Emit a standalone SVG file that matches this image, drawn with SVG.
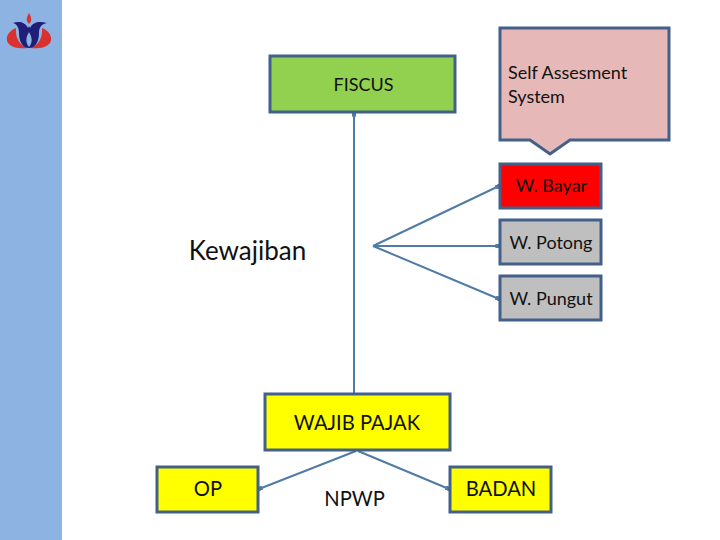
<svg xmlns="http://www.w3.org/2000/svg" width="720" height="540" viewBox="0 0 720 540">
<defs>
<marker id="dot" viewBox="0 0 6 6" refX="5" refY="3" markerWidth="2.2" markerHeight="2.2" markerUnits="strokeWidth" orient="auto"><rect x="0" y="0" width="6" height="6" fill="#4f7ba7"/></marker>
</defs>
<style>
text{font-family:Lato,"Liberation Sans",sans-serif;fill:#111}
.b{stroke:#43608a;stroke-width:3}
.c{fill:none;stroke:#4f7ba7;stroke-width:2;marker-end:url(#dot)}
.s{font-size:18px}
.m{font-size:20.200px}
</style>
<rect x="0" y="0" width="62" height="540" fill="#8db3e2"/>
<g id="logo">
<path d="M29 13 C26 18 26 21 29 24 C32 21 32 18 29 13Z" fill="#d9322e"/>
<path d="M16 28 C8 31 5 38 8 43 C12 48 21 49 28 48 C20 46 15 38 16 28Z" fill="#d9322e"/>
<path d="M42 28 C50 31 53 38 50 43 C46 48 37 49 30 48 C38 46 43 38 42 28Z" fill="#d9322e"/>
<path d="M13 23 C19 21 25 22 28 28 C29 26 29 26 30 28 C33 22 39 21 47 23 C41 24 39 28 39 33 C39 42 35 48 29 48 C23 48 19 42 19 33 C19 28 17 24 13 23Z" fill="#1f1f78"/>
<path d="M29 32 C26 37 25 42 29 47 C33 42 32 37 29 32Z" fill="#8db3e2"/>
</g>
<g id="connectors">
<path class="c" d="M354 393V113"/>
<path class="c" d="M373 246L499 186"/>
<path class="c" d="M373 246H499"/>
<path class="c" d="M373 246L499 299"/>
<path class="c" d="M356 451L259 489"/>
<path class="c" d="M358 451L449 489"/>
</g>
<g id="fiscus"><rect class="b" x="270" y="56" width="185" height="56" fill="#92d050"/><text class="s" x="363.500" y="91" text-anchor="middle">FISCUS</text></g>
<g id="self-assesment"><path class="b" d="M500 28H669V140H570L550 154L530 140H500Z" fill="#e6b8b7"/><text class="s" x="508" y="79">Self Assesment</text><text class="s" x="508" y="103">System</text></g>
<g id="w-bayar"><rect class="b" x="500" y="164" width="101" height="44" fill="#ff0000"/><text class="s" x="551.500" y="192" text-anchor="middle">W. Bayar</text></g>
<g id="w-potong"><rect class="b" x="500" y="220" width="101" height="44" fill="#bfbfbf"/><text class="s" x="551" y="249" text-anchor="middle">W. Potong</text></g>
<g id="w-pungut"><rect class="b" x="500" y="276" width="101" height="44" fill="#bfbfbf"/><text class="s" x="551" y="305" text-anchor="middle">W. Pungut</text></g>
<g id="kewajiban"><text font-size="26" x="247.500" y="260" text-anchor="middle">Kewajiban</text></g>
<g id="wajib-pajak"><rect class="b" x="265" y="394" width="185" height="56" fill="#ffff00"/><text class="m" x="357" y="430" text-anchor="middle">WAJIB PAJAK</text></g>
<g id="op"><rect class="b" x="157" y="467" width="101" height="45" fill="#ffff00"/><text class="m" x="208" y="496" text-anchor="middle">OP</text></g>
<g id="npwp"><text class="m" x="354.500" y="506" text-anchor="middle">NPWP</text></g>
<g id="badan"><rect class="b" x="450" y="467" width="101" height="45" fill="#ffff00"/><text class="m" x="501" y="496" text-anchor="middle">BADAN</text></g>
</svg>
